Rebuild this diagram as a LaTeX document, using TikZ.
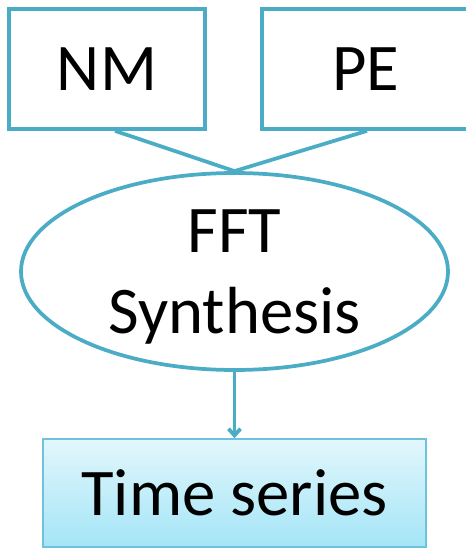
\documentclass[tikz,border=0pt]{standalone}
\usepackage{fontspec}
\setmainfont{Carlito}
\usetikzlibrary{arrows.meta,shapes.geometric,calc}
\definecolor{aqua}{RGB}{75,172,198}
\definecolor{aquaedge}{RGB}{110,195,218}
\definecolor{paletop}{RGB}{226,247,252}
\definecolor{palebottom}{RGB}{164,229,247}
\tikzset{
  flowline/.style={draw=aqua, line width=2.8pt},
  inbox/.style={rectangle, draw=aqua, line width=2.8pt, inner sep=0pt,
    font=\fontsize{50pt}{60.75pt}\selectfont},
  synth/.style={ellipse, draw=aqua, line width=2.8pt, inner sep=0pt,
    minimum width=320.25pt, minimum height=147.75pt, align=center,
    text depth=0pt, font=\fontsize{50pt}{60.75pt}\selectfont},
  outbox/.style={rectangle, draw=aquaedge, line width=1.2pt, inner sep=0pt,
    top color=paletop, bottom color=palebottom,
    minimum width=287.25pt, minimum height=81pt,
    font=\fontsize{50pt}{60.75pt}\selectfont},
}
\begin{document}
\begin{tikzpicture}[x=0.75pt, y=-0.75pt]
  \useasboundingbox (0,0) rectangle (466,548);

  % input boxes
  \node[inbox, minimum width=147pt, minimum height=90pt] (nm) at (107,69) {NM};
  \node[inbox, minimum width=156pt, minimum height=90pt] (pe) at (366,69) {PE};

  % synthesis step
  \node[synth] (fft) at (234.5,271.5) {FFT\\Synthesis};

  % output box
  \node[outbox] (ts) at (234.5,493) {Time series};

  % connectors
  \draw[flowline] ($(nm.south)+(8,0)$) -- (fft.north);
  \draw[flowline] ($(pe.south)+(1,0)$) -- (fft.north);
  \draw[flowline, -{Straight Barb[length=5pt, width=9pt]}] (fft.south) -- (ts.north);
\end{tikzpicture}
\end{document}
